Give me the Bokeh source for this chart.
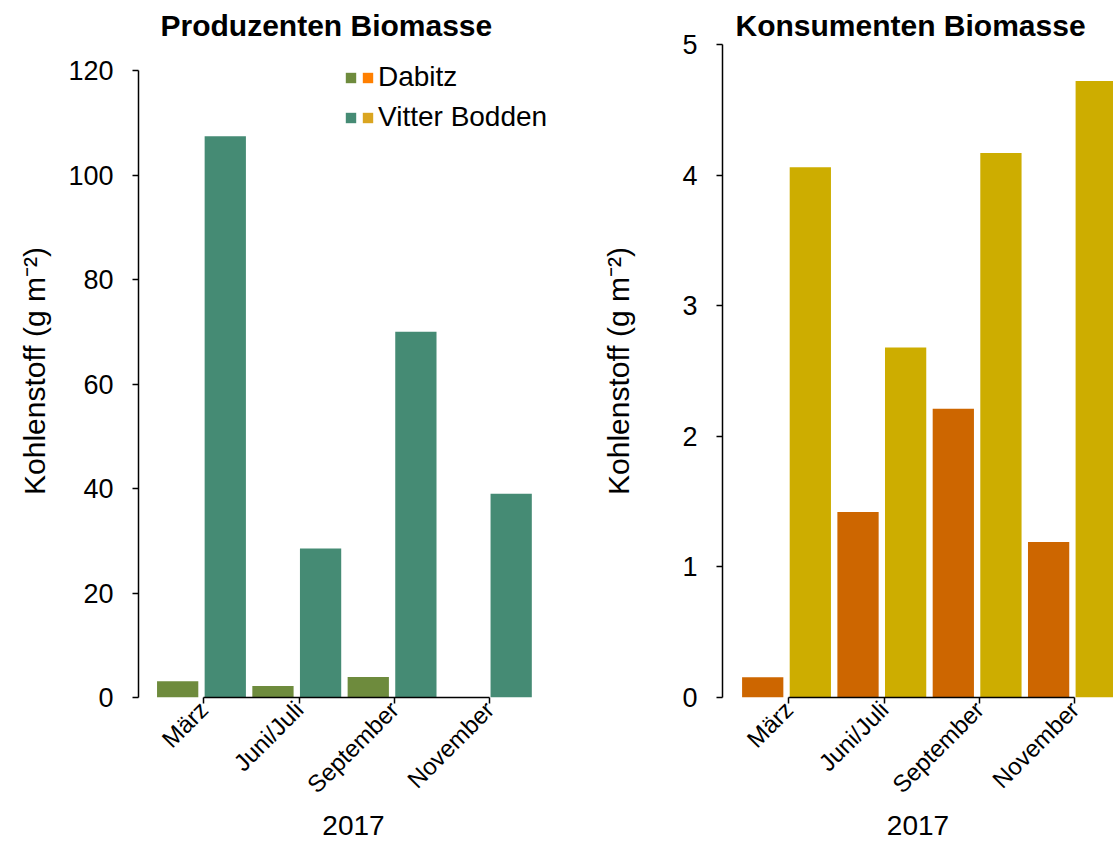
import math
from bokeh.plotting import figure
from bokeh.layouts import row
from bokeh.models import (ColumnDataSource, FixedTicker, Legend, LegendItem, Title, Range1d)
from bokeh.embed import file_html
from bokeh.resources import INLINE

# ---------------- data ----------------
months = ["März", "Juni/Juli", "September", "November"]
year_label = "2017"
ylabel = "Kohlenstoff (g m\u207b\u00b2)"

prod_dabitz = [3.1, 2.2, 3.9, 0.0]
prod_vitter = [107.4, 28.5, 70.0, 39.0]
kons_dabitz = [0.155, 1.42, 2.21, 1.19]
kons_vitter = [4.06, 2.68, 4.17, 4.72]

prod_ticks = [0, 20, 40, 60, 80, 100, 120]
kons_ticks = [0, 1, 2, 3, 4, 5]

series_names = ["Dabitz", "Vitter Bodden"]

# ---------------- style ----------------
FONT = "Liberation Sans"
C_PROD = ["#6E8B3D", "#458B74"]
C_KONS = ["#CD6600", "#CDAD00"]
C_LEG = [["#6E8B3D", "#458B74"], ["#FF7F00", "#DAA520"]]
BAR_W = 0.433
OFF_D = -0.274
OFF_V = 0.2256
PX_PER_CAT = 95.3

W, H = 1113, 841
FRAME_TOP, FRAME_BOTTOM = 44, 697
FRAME_H = FRAME_BOTTOM - FRAME_TOP


def style(p, ticks, bounds_y, title_text, title_offset, label_standoff):
    p.xgrid.visible = False
    p.ygrid.visible = False
    p.outline_line_color = None
    p.background_fill_color = "white"
    p.border_fill_color = "white"

    t = Title(text=title_text, text_font=FONT, text_font_size="30px",
              text_font_style="bold", align="left", offset=title_offset,
              standoff=6, text_color="black")
    p.add_layout(t, "above")

    xa = p.xaxis[0]
    xa.ticker = FixedTicker(ticks=list(range(len(months))))
    xa.major_label_overrides = {i: m for i, m in enumerate(months)}
    xa.bounds = (0, len(months) - 1)
    xa.major_label_orientation = math.pi / 4
    xa.major_label_text_font = FONT
    xa.major_label_text_font_size = "24px"
    xa.major_label_text_color = "black"
    xa.major_label_standoff = 2
    xa.axis_label = year_label
    xa.axis_label_text_font = FONT
    xa.axis_label_text_font_size = "28px"
    xa.axis_label_text_font_style = "normal"
    xa.axis_label_text_color = "black"
    xa.axis_label_standoff = 5
    xa.axis_line_width = 1.5
    xa.axis_line_color = "black"
    xa.major_tick_line_width = 1.5
    xa.major_tick_out = 6
    xa.major_tick_in = 0
    xa.minor_tick_line_color = None

    ya = p.yaxis[0]
    ya.ticker = FixedTicker(ticks=ticks)
    ya.bounds = bounds_y
    ya.major_label_text_font = FONT
    ya.major_label_text_font_size = "27px"
    ya.major_label_text_color = "black"
    ya.major_label_standoff = 19
    ya.axis_label = ylabel
    ya.axis_label_text_font = FONT
    ya.axis_label_text_font_size = "30px"
    ya.axis_label_text_font_style = "normal"
    ya.axis_label_text_color = "black"
    ya.axis_label_standoff = label_standoff
    ya.axis_line_width = 1.5
    ya.axis_line_color = "black"
    ya.major_tick_line_width = 1.5
    ya.major_tick_out = 6
    ya.major_tick_in = 0
    ya.minor_tick_line_color = None


def bars(p, d_vals, v_vals, colors):
    idx = list(range(len(months)))
    src = ColumnDataSource(dict(
        xd=[i + OFF_D for i in idx], xv=[i + OFF_V for i in idx],
        d=d_vals, v=v_vals))
    p.vbar(x="xd", top="d", bottom=0, width=BAR_W, source=src,
           fill_color=colors[0], line_color=None)
    p.vbar(x="xv", top="v", bottom=0, width=BAR_W, source=src,
           fill_color=colors[1], line_color=None)


# ---------------- left figure ----------------
L_W = 570
L_frame_left = 138
L_frame_w = L_W - L_frame_left - 2
x0 = -0.685
prod_px = 627 / 120.0  # pixels per unit, matching reference scale
p1 = figure(width=L_W, height=H, output_backend="svg", toolbar_location=None,
            x_range=Range1d(x0, x0 + L_frame_w / PX_PER_CAT),
            y_range=Range1d(0, FRAME_H / prod_px),
            min_border_left=L_frame_left, min_border_top=FRAME_TOP,
            min_border_bottom=H - FRAME_BOTTOM, min_border_right=2)
style(p1, prod_ticks, (0, 120), "Produzenten Biomasse", 22, 14)
bars(p1, prod_dabitz, prod_vitter, C_PROD)

# legend (two squares per entry)
nan = float("nan")
for col in range(2):
    items = []
    for s in range(2):
        dummy = ColumnDataSource(dict(x=[nan], top=[nan]))
        r = p1.vbar(x="x", top="top", width=0.5, source=dummy,
                    fill_color=C_LEG[col][s], line_color=None)
        items.append(LegendItem(label=(series_names[s] if col == 1 else " "), renderers=[r]))
    lg = Legend(items=items, location=(206 + 17 * col, 564),
                glyph_width=13, glyph_height=13, label_standoff=4,
                label_width=0, label_height=32, padding=0, margin=0, spacing=8,
                label_text_font=FONT, label_text_font_size="28px",
                label_text_color="black",
                background_fill_alpha=0, border_line_color=None)
    p1.add_layout(lg, "center")

# ---------------- right figure ----------------
R_W = W - L_W
R_frame_left = 722 - L_W
R_frame_w = R_W - R_frame_left
x0r = -0.696
p2 = figure(width=R_W, height=H, output_backend="svg", toolbar_location=None,
            x_range=Range1d(x0r, x0r + R_frame_w / PX_PER_CAT),
            y_range=Range1d(0, 5),
            min_border_left=R_frame_left, min_border_top=FRAME_TOP,
            min_border_bottom=H - FRAME_BOTTOM, min_border_right=0)
style(p2, kons_ticks, (0, 5), "Konsumenten Biomasse", 13, 44)
bars(p2, kons_dabitz, kons_vitter, C_KONS)

layout = row(p1, p2)
open("out.html", "w").write(file_html(layout, INLINE))
